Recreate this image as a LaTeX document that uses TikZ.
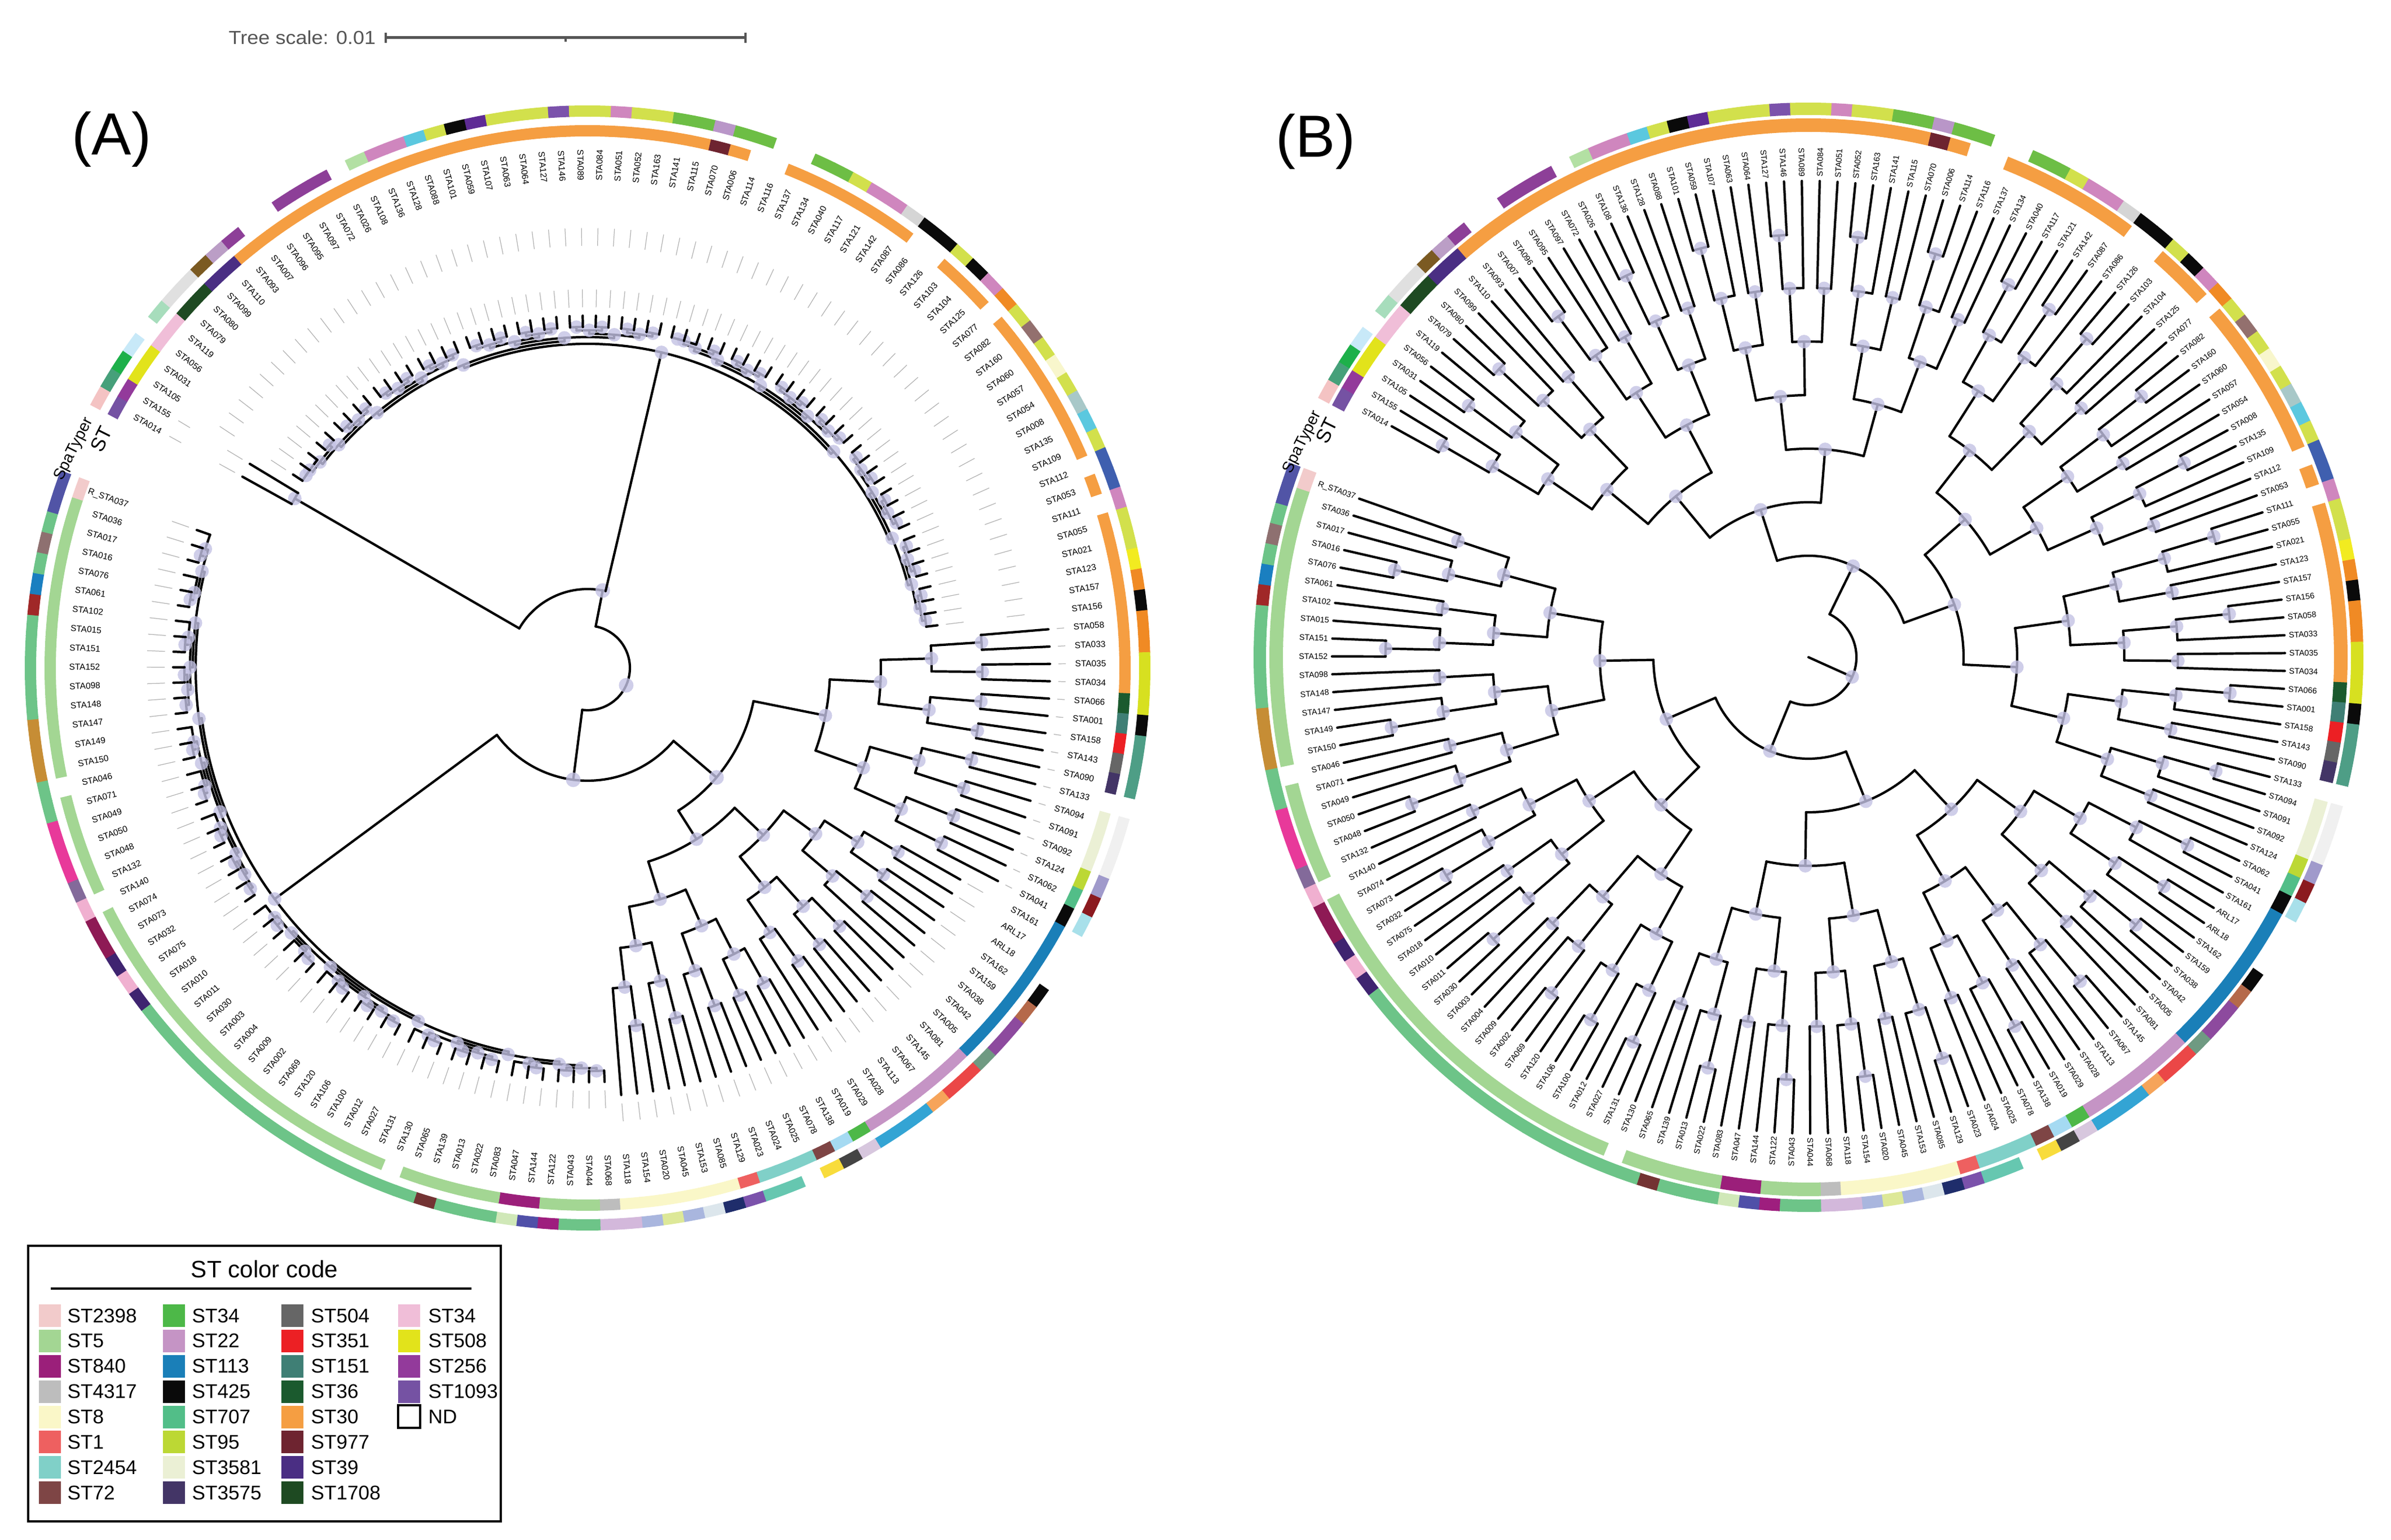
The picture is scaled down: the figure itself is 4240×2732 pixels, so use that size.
\documentclass[tikz,border=0pt]{standalone}
\usepackage{fontspec}
\setmainfont{Liberation Sans}
\usepackage{xcolor}
% inner ring (ST) colours
\definecolor{P1}{HTML}{7552A3}\definecolor{MG}{HTML}{933A9B}\definecolor{YE}{HTML}{E2E31B}
\definecolor{PKb}{HTML}{F0BED8}\definecolor{DGe}{HTML}{1E4A22}\definecolor{DPt}{HTML}{4A2E83}
\definecolor{OR}{HTML}{F59E42}\definecolor{DR}{HTML}{6E2430}\definecolor{DGs}{HTML}{1B5A2E}
\definecolor{TE}{HTML}{3F7F75}\definecolor{RE}{HTML}{EC2024}\definecolor{GY}{HTML}{666666}
\definecolor{DPu}{HTML}{433566}\definecolor{PA}{HTML}{EBF0D5}\definecolor{YG}{HTML}{BCD834}
\definecolor{GR}{HTML}{52BE88}\definecolor{BK}{HTML}{0A0A0A}\definecolor{BL}{HTML}{1A7FB8}
\definecolor{LI}{HTML}{C594C5}\definecolor{GN}{HTML}{4DB848}\definecolor{LB}{HTML}{A5DAF2}
\definecolor{BR}{HTML}{7E4545}\definecolor{TQ}{HTML}{80D0C8}\definecolor{RD}{HTML}{EE6060}
\definecolor{PY}{HTML}{FAF7C8}\definecolor{GA}{HTML}{BDBDBD}\definecolor{LG}{HTML}{A3D693}
\definecolor{MA}{HTML}{9B1F7A}\definecolor{PK}{HTML}{F2CBCB}
% outer ring (SpaTyper) colours
\definecolor{sPK}{HTML}{F4C3C3}\definecolor{sTG}{HTML}{46A07A}\definecolor{sGR}{HTML}{1DB04A}
\definecolor{sLB}{HTML}{C8E9F8}\definecolor{sMI}{HTML}{A7DDBC}\definecolor{sLGy}{HTML}{E0E0E0}
\definecolor{sBRn}{HTML}{7B5A22}\definecolor{sLGP}{HTML}{BB9EC6}\definecolor{sPU}{HTML}{8D3F98}
\definecolor{sMIb}{HTML}{B3E0A3}\definecolor{sPI}{HTML}{CF86BE}\definecolor{sCY}{HTML}{5BC8DF}
\definecolor{sYG}{HTML}{D2E04C}\definecolor{sBK}{HTML}{0A0A0A}\definecolor{sDP}{HTML}{5E2B95}
\definecolor{sPUb}{HTML}{7B52AB}\definecolor{sGN}{HTML}{6DBE45}\definecolor{sLIL}{HTML}{B996C8}
\definecolor{sLGyb}{HTML}{D5D5D5}\definecolor{sOR}{HTML}{F08A24}\definecolor{sBG}{HTML}{93706E}
\definecolor{sPAY}{HTML}{F8F6CC}\definecolor{sGT}{HTML}{A8C8C8}\definecolor{sBLU}{HTML}{3F5FAF}
\definecolor{sYEL}{HTML}{F2EB20}\definecolor{sYGb}{HTML}{D7E020}\definecolor{sTGb}{HTML}{4E9E86}
\definecolor{sLGyc}{HTML}{F0F0F0}\definecolor{sLAV}{HTML}{A09ACB}\definecolor{sDRd}{HTML}{8B1A1F}
\definecolor{sLBb}{HTML}{A8E0EA}\definecolor{sBRo}{HTML}{B5694A}\definecolor{sPUc}{HTML}{8D4A9E}
\definecolor{sGG}{HTML}{6F9A82}\definecolor{sRD}{HTML}{EB4747}\definecolor{sORc}{HTML}{F6A45A}
\definecolor{sBLb}{HTML}{33A4D4}\definecolor{sLGyP}{HTML}{D7C7DE}\definecolor{sDGy}{HTML}{444444}
\definecolor{sYLb}{HTML}{F8DC3C}\definecolor{sTQ}{HTML}{66C7B0}\definecolor{sNV}{HTML}{1F2D6B}
\definecolor{sLGB}{HTML}{DCE6EC}\definecolor{sPW}{HTML}{A9B6DE}\definecolor{sPYG}{HTML}{DDE898}
\definecolor{sLILb}{HTML}{D3B8DB}\definecolor{sGNc}{HTML}{6DC488}\definecolor{sMA}{HTML}{9E1E7E}
\definecolor{sBP}{HTML}{5050A8}\definecolor{sPGr}{HTML}{D0E8B8}\definecolor{sDBr}{HTML}{733333}
\definecolor{sDPc}{HTML}{3F2470}\definecolor{sPKc}{HTML}{F0B0D0}\definecolor{sMDk}{HTML}{8E1A55}
\definecolor{sPG}{HTML}{836A9A}\definecolor{sHP}{HTML}{E8399A}\definecolor{sOC}{HTML}{C68D35}
\definecolor{sDRdb}{HTML}{A02828}\definecolor{sBlu}{HTML}{1A7FC0}\definecolor{sBGy}{HTML}{8E7070}
\definecolor{sBPb}{HTML}{5154A6}
\definecolor{lav}{HTML}{C4C2E4}
\definecolor{scl}{HTML}{555555}

\def\AO{151}\def\DA{2.15}
\def\leafnames{STA014,STA155,STA105,STA031,STA056,STA119,STA079,STA080,STA099,STA110,STA093,STA007,STA096,STA095,STA097,STA072,STA026,STA108,STA136,STA128,STA088,STA101,STA059,STA107,STA063,STA064,STA127,STA146,STA089,STA084,STA051,STA052,STA163,STA141,STA115,STA070,STA006,STA114,STA116,STA137,STA134,STA040,STA117,STA121,STA142,STA087,STA086,STA126,STA103,STA104,STA125,STA077,STA082,STA160,STA060,STA057,STA054,STA008,STA135,STA109,STA112,STA053,STA111,STA055,STA021,STA123,STA157,STA156,STA058,STA033,STA035,STA034,STA066,STA001,STA158,STA143,STA090,STA133,STA094,STA091,STA092,STA124,STA062,STA041,STA161,ARL17,ARL18,STA162,STA159,STA038,STA042,STA005,STA081,STA145,STA067,STA113,STA028,STA029,STA019,STA138,STA078,STA025,STA024,STA023,STA129,STA085,STA153,STA045,STA020,STA154,STA118,STA068,STA044,STA043,STA122,STA144,STA047,STA083,STA022,STA013,STA139,STA065,STA130,STA131,STA027,STA012,STA100,STA106,STA120,STA069,STA002,STA009,STA004,STA003,STA030,STA011,STA010,STA018,STA075,STA032,STA073,STA074,STA140,STA132,STA048,STA050,STA049,STA071,STA046,STA150,STA149,STA147,STA148,STA098,STA152,STA151,STA015,STA102,STA061,STA076,STA016,STA017,STA036,R\_STA037}
\def\ringcols{P1/sPK,MG/sTG,YE/sGR,YE/sLB,PKb/none,PKb/sMI,DGe/sLGy,DGe/sLGy,DPt/sBRn,DPt/sLGP,
OR/sPU,OR/none,OR/none,OR/sPU,OR/sPU,OR/sPU,OR/none,OR/sMIb,OR/sPI,OR/sPI,
OR/sCY,OR/sYG,OR/sBK,OR/sDP,OR/sYG,OR/sYG,OR/sYG,OR/sPUb,OR/sYG,OR/sYG,
OR/sPI,OR/sYG,OR/sYG,OR/sGN,OR/sGN,DR/sLIL,OR/sGN,none/sGN,none/none,OR/none,
OR/sGN,OR/sGN,OR/sYG,OR/sPI,OR/sPI,OR/sLGyb,none/sBK,none/sBK,OR/sYG,OR/sBK,
OR/sPI,none/sOR,OR/sYG,OR/sBG,OR/sYG,OR/sPAY,OR/sYG,OR/sGT,OR/sCY,OR/sYG,
none/sBLU,OR/sBLU,none/sPI,OR/sYG,OR/sYG,OR/sYEL,OR/sOR,OR/sBK,OR/sOR,OR/sOR,
OR/sYGb,OR/sYGb,DGs/sYGb,TE/sBK,RE/sTGb,GY/sTGb,DPu/sTGb,none/none,PA/sLGyc,PA/sLGyc,
PA/sLGyc,YG/sLAV,GR/sDRd,BK/sLBb,BL/none,BL/none,BL/none,BL/sBK,BL/sBRo,BL/sPUc,
BL/sPUc,BL/sGG,LI/sRD,LI/sRD,LI/sORc,LI/sBLb,LI/sBLb,LI/sBLb,GN/sLGyP,LB/sDGy,
BR/sYLb,TQ/none,TQ/sTQ,TQ/sTQ,RD/sPUb,PY/sNV,PY/sLGB,PY/sPW,PY/sPYG,PY/sPW,
PY/sLILb,GA/sLILb,LG/sGNc,LG/sGNc,LG/sMA,MA/sBP,MA/sPGr,LG/sGNc,LG/sGNc,LG/sGNc,
LG/sDBr,LG/sGNc,none/sGNc,LG/sGNc,LG/sGNc,LG/sGNc,LG/sGNc,LG/sGNc,LG/sGNc,LG/sGNc,
LG/sGNc,LG/sGNc,LG/sGNc,LG/sGNc,LG/sGNc,LG/sGNc,LG/sGNc,LG/sDPc,LG/sPKc,LG/sDPc,
LG/sMDk,LG/sMDk,none/sPKc,LG/sPG,LG/sHP,LG/sHP,LG/sHP,LG/sGNc,none/sGNc,LG/sOC,
LG/sOC,LG/sOC,LG/sGNc,LG/sGNc,LG/sGNc,LG/sGNc,LG/sGNc,LG/sDRdb,LG/sBlu,LG/sGNc,
LG/sBGy,LG/sGNc,LG/sBPb,PK/sBPb}

\tikzset{br/.style={black,line width=1.2pt,line cap=round},
 dotc/.style={fill=lav,fill opacity=0.8},
 guide/.style={gray!60,line width=0.35pt,dash pattern=on 9pt off 22pt},
 lab/.style={inner sep=0pt,font=\fontsize{4.4}{5}\selectfont},
 labb/.style={inner sep=0pt,font=\fontsize{4.1}{5}\selectfont},
 legtxt/.style={anchor=west,inner sep=0pt,font=\fontsize{10}{12}\selectfont}}

% recursive clade: a b rparent rnode step tip
\newcommand\clade[6]{\begingroup
 \pgfmathsetmacro\cth{\AO-\DA*(#1+#2)/2}%
 \draw[br] (\cth:#3) -- (\cth:#4);%
 \ifnum#1<#2\relax
  \pgfmathtruncatemacro\cMid{(#1+#2)/2}%
  \pgfmathtruncatemacro\cNxt{\cMid+1}%
  \pgfmathsetmacro\tha{\AO-\DA*(#1+\cMid)/2}%
  \pgfmathsetmacro\thb{\AO-\DA*(\cNxt+#2)/2}%
  \draw[br] (\tha:#4) arc[start angle=\tha,end angle=\thb,radius=#4];%
  \fill[dotc] (\cth:#4) circle[radius=12];%
  \pgfmathsetmacro\rc{min(#4+#5,#6-20)}%
  \ifnum#1=\cMid\relax \edef\ra{#6}\else\edef\ra{\rc}\fi
  \ifnum\cNxt=#2\relax \edef\rb{#6}\else\edef\rb{\rc}\fi
  \edef\nxt{\noexpand\clade{#1}{\cMid}{#4}{\ra}{#5}{#6}\noexpand\clade{\cNxt}{#2}{#4}{\rb}{#5}{#6}}%
  \nxt
 \fi\endgroup}
% manual split: a m b rparent rnode
\newcommand\splitc[5]{%
 \pgfmathsetmacro\sth{\AO-\DA*(#1+#3)/2}%
 \pgfmathsetmacro\sa{\AO-\DA*(#1+#2)/2}%
 \pgfmathsetmacro\sb{\AO-\DA*(#2+1+#3)/2}%
 \draw[br] (\sth:#4) -- (\sth:#5);%
 \draw[br] (\sa:#5) arc[start angle=\sa,end angle=\sb,radius=#5];%
 \fill[dotc] (\sth:#5) circle[radius=13];}
\newcommand\guides[3]{\foreach \i in {#1,...,#2}{\pgfmathsetmacro\gth{\AO-\DA*\i}\pgfmathsetmacro\grs{#3+15}\draw[guide] (\gth:\grs) -- (\gth:848);}}
\newcommand\rings[4]{\foreach \ca/\cb [count=\i from 0] in \ringcols {%
 \pgfmathsetmacro\ta{\AO-\DA*\i+\DA/2+0.04}\pgfmathsetmacro\tb{\AO-\DA*\i-\DA/2-0.04}%
 \fill[fill=\ca] (\ta:#1) arc[start angle=\ta,end angle=\tb,radius=#1] -- (\tb:#2) arc[start angle=\tb,end angle=\ta,radius=#2] -- cycle;
 \fill[fill=\cb] (\ta:#3) arc[start angle=\ta,end angle=\tb,radius=#3] -- (\tb:#4) arc[start angle=\tb,end angle=\ta,radius=#4] -- cycle;}}
\newcommand\leaflabels[2]{\foreach \nm [count=\i from 0] in \leafnames {%
 \pgfmathsetmacro\lth{\AO-\DA*\i}\pgfmathtruncatemacro\rt{cos(\lth)>=0}%
 \ifnum\rt=1 \node[#2,anchor=west,rotate=\lth] at (\lth:#1) {\nm};%
 \else\pgfmathsetmacro\ltr{\lth+180}\node[#2,anchor=east,rotate=\ltr] at (\lth:#1) {\nm};\fi}}
\newcommand\ringtitles[2]{%
 \pgfmathsetmacro\tt{\AO+2.4}\pgfmathsetmacro\tr{\AO+2.4-90}%
 \node[anchor=east,inner sep=0pt,rotate=\tr,font=\fontsize{10}{12}\selectfont] at (\tt:#1) {ST};
 \node[anchor=east,inner sep=0pt,rotate=\tr,font=\fontsize{8}{10}\selectfont] at (\tt:#2) {SpaTyper};}

\begin{document}
\begin{tikzpicture}[x=0.1mm,y=0.1mm]
\useasboundingbox (0,0) rectangle (4240,2732);
\fill[white] (0,0) rectangle (4240,2732);
% tree scale
\node[anchor=west,inner sep=0pt,text=scl,font=\fontsize{9.5}{11}\selectfont] (ts) at (405,2665) {\scalebox{1.08}[1]{Tree scale: 0.01}};
\draw[scl,line width=1.4pt] (684,2665) -- (1322,2665);
\draw[scl,line width=1.2pt] (684,2656) -- (684,2674) (1322,2656) -- (1322,2674) (1003,2665) -- (1003,2658);
\node[font=\fontsize{30}{34}\selectfont] (la) at (198,2485) {(A)};
\node[font=\fontsize{30}{34}\selectfont] (lb) at (2333,2481) {(B)};
% ---------------- tree A
\begin{scope}[shift={(1042,1547)}]
 \rings{943}{963}{978}{998}
 \guides{0}{1}{700}\guides{2}{67}{625}\guides{68}{83}{820}\guides{84}{110}{760}\guides{111}{163}{735}
 \splitc{0}{67}{163}{75}{75}
 \splitc{0}{1}{67}{75}{140}
 \clade{0}{1}{140}{600}{40}{700}
 \clade{2}{67}{140}{575}{6}{625}
 \splitc{68}{110}{163}{75}{200}
 \splitc{68}{83}{110}{200}{300}
 \clade{68}{83}{300}{430}{90}{820}
 \clade{84}{110}{300}{360}{70}{760}
 \clade{111}{163}{200}{690}{5}{735}
 \leaflabels{864}{lab}
 \ringtitles{953}{988}
\end{scope}
% ---------------- tree B
\begin{scope}[shift={(3207,1566)}]
 \rings{932}{956}{962}{984}
 \clade{0}{163}{0}{85}{95}{845}
 \leaflabels{852}{labb}
 \ringtitles{944}{973}
\end{scope}
% ---------------- legend
\draw[line width=1.3pt] (50,33) rectangle (888,522);
\node[font=\fontsize{12}{14}\selectfont] (lt) at (469,481) {ST color code};
\draw[line width=1.4pt] (90,446) -- (836,446);
\foreach \cx/\tx [count=\c from 0] in {69/119,289/340,499/551,706/759}{
 \ifcase\c
  \def\items{PK/ST2398,LG/ST5,MA/ST840,GA/ST4317,PY/ST8,RD/ST1,TQ/ST2454,BR/ST72}\or
  \def\items{GN/ST34,LI/ST22,BL/ST113,BK/ST425,GR/ST707,YG/ST95,PA/ST3581,DPu/ST3575}\or
  \def\items{GY/ST504,RE/ST351,TE/ST151,DGs/ST36,OR/ST30,DR/ST977,DPt/ST39,DGe/ST1708}\or
  \def\items{PKb/ST34,YE/ST508,MG/ST256,P1/ST1093}\fi
 \foreach \col/\txt [count=\r from 0] in \items {
  \pgfmathsetmacro\ry{398-44.9*\r}
  \fill[\col] (\cx,\ry-20) rectangle ++(39,40);
  \node[legtxt] at (\tx,\ry) {\txt};}
}
\draw[line width=0.9pt] (706,219-20) rectangle ++(39,40);
\node[legtxt] at (759,219) {ND};
\end{tikzpicture}
\end{document}
